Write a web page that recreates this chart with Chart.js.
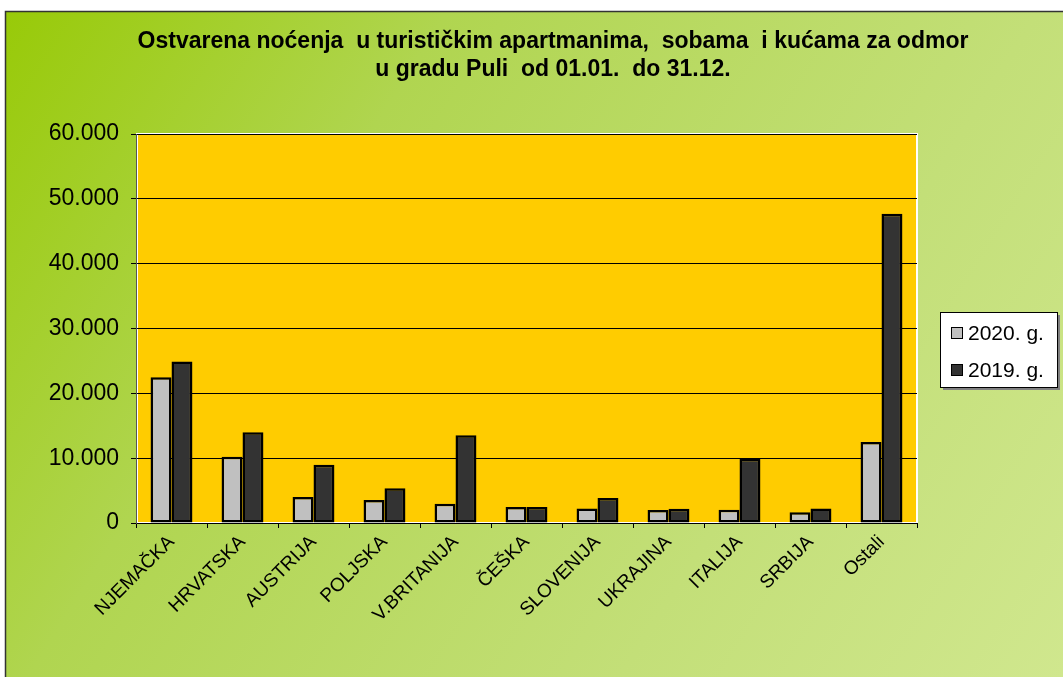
<!DOCTYPE html>
<html>
<head>
<meta charset="utf-8">
<script src="https://cdn.jsdelivr.net/npm/chart.js@4"></script>
<style>
  body { margin: 0; background: #fff; }
  canvas { display: block; }
</style>
</head>
<body>
<canvas id="chart" width="1063" height="677"></canvas>
<script>
const categories = ['NJEMAČKA', 'HRVATSKA', 'AUSTRIJA', 'POLJSKA', 'V.BRITANIJA', 'ČEŠKA', 'SLOVENIJA', 'UKRAJINA', 'ITALIJA', 'SRBIJA', 'Ostali'];
const values2020 = [22500, 10200, 4000, 3550, 2950, 2450, 2250, 2000, 2050, 1650, 12500];
const values2019 = [24900, 14000, 9000, 5350, 13550, 2450, 3850, 2200, 9900, 2250, 47700];
const seriesLabels = ['2020. g.', '2019. g.'];
const titleLines = ['Ostvarena noćenja  u turističkim apartmanima,  sobama  i kućama za odmor', 'u gradu Puli  od 01.01.  do 31.12.'];
const yMax = 60000;
const yStep = 10000;

const FONT = "'Liberation Sans', Arial, sans-serif";

function formatThousands(v) {
    return String(v).replace(/\B(?=(\d{3})+(?!\d))/g, '.');
}

// background frame, gradient and plot area fill
const backgroundPlugin = {
    id: 'background',
    beforeDraw(chart) {
        const ctx = chart.ctx;
        const w = chart.width, h = chart.height;
        ctx.save();
        ctx.fillStyle = '#ffffff';
        ctx.fillRect(0, 0, w, h);
        const grad = ctx.createLinearGradient(5, 11, w, h);
        grad.addColorStop(0, '#98ca08');
        grad.addColorStop(0.3, '#b0d550');
        grad.addColorStop(0.7, '#c3df78');
        grad.addColorStop(1, '#d0e78e');
        ctx.fillStyle = grad;
        ctx.fillRect(5, 11, w - 5, h - 11);
        ctx.strokeStyle = '#333333';
        ctx.lineWidth = 1.5;
        ctx.beginPath();
        ctx.moveTo(5.5, h);
        ctx.lineTo(5.5, 11.5);
        ctx.lineTo(w, 11.5);
        ctx.stroke();

        const a = chart.chartArea;
        ctx.fillStyle = '#FFCC00';
        ctx.fillRect(a.left, a.top, a.right - a.left, a.bottom - a.top);
        ctx.strokeStyle = '#ffffff';
        ctx.lineWidth = 2;
        ctx.strokeRect(a.left + 1, a.top, a.right - a.left - 1, a.bottom - a.top);
        ctx.restore();
    }
};

// two-line title and the legend box on the right
const labelsPlugin = {
    id: 'labels',
    afterDraw(chart) {
        const ctx = chart.ctx;
        ctx.save();
        ctx.fillStyle = '#000000';
        ctx.font = 'bold 23px ' + FONT;
        ctx.textAlign = 'center';
        ctx.textBaseline = 'alphabetic';
        titleLines.forEach((line, i) => {
            ctx.fillText(line, 553, 47.5 + i * 28.5);
        });

        const bx = 940, by = 312, bw = 117, bh = 75;
        ctx.fillStyle = '#808080';
        ctx.fillRect(bx + 3, by + 3, bw, bh);
        ctx.fillStyle = '#ffffff';
        ctx.fillRect(bx, by, bw, bh);
        ctx.strokeStyle = '#000000';
        ctx.lineWidth = 1;
        ctx.strokeRect(bx + 0.5, by + 0.5, bw, bh);

        ctx.font = '21px ' + FONT;
        ctx.textAlign = 'left';
        ctx.textBaseline = 'middle';
        chart.data.datasets.forEach((ds, i) => {
            const cy = by + 21 + i * 37;
            ctx.fillStyle = ds.backgroundColor;
            ctx.fillRect(bx + 11, cy - 6, 12, 12);
            ctx.strokeStyle = '#000000';
            ctx.strokeRect(bx + 11.5, cy - 5.5, 11, 11);
            ctx.fillStyle = '#000000';
            ctx.fillText(ds.label, bx + 28, cy + 1);
        });
        ctx.restore();
    }
};

const chart = new Chart(document.getElementById('chart'), {
    type: 'bar',
    data: {
        labels: categories,
        datasets: [
            {
                label: seriesLabels[0],
                data: values2020,
                backgroundColor: '#C0C0C0',
                borderColor: '#000000',
                borderWidth: 2.5,
                borderSkipped: false
            },
            {
                label: seriesLabels[1],
                data: values2019,
                backgroundColor: '#333333',
                borderColor: '#000000',
                borderWidth: 2.5,
                borderSkipped: false
            }
        ]
    },
    options: {
        responsive: false,
        animation: false,
        datasets: {
            bar: {
                categoryPercentage: 0.59,
                barPercentage: 1.0
            }
        },
        layout: {
            padding: { top: 134, right: 146, left: 0, bottom: 0 }
        },
        plugins: {
            legend: { display: false },
            title: { display: false },
            tooltip: { enabled: false }
        },
        scales: {
            x: {
                grid: {
                    offset: true,
                    drawOnChartArea: false,
                    drawTicks: true,
                    tickLength: 5,
                    color: '#000000'
                },
                border: { color: '#000000', width: 1 },
                ticks: {
                    color: '#000000',
                    font: { family: FONT, size: 19 },
                    minRotation: 45,
                    maxRotation: 45,
                    autoSkip: false,
                    padding: 3
                },
                afterFit(scale) {
                    scale.height = 154;
                }
            },
            y: {
                min: 0,
                max: yMax,
                grid: {
                    color: '#000000',
                    lineWidth: 1,
                    tickLength: 5
                },
                border: { color: '#555555', width: 1 },
                ticks: {
                    stepSize: yStep,
                    color: '#000000',
                    font: { family: FONT, size: 23 },
                    padding: 12,
                    callback: v => formatThousands(v)
                },
                afterFit(scale) {
                    scale.width = 136;
                }
            }
        }
    },
    plugins: [backgroundPlugin, labelsPlugin]
});
</script>
</body>
</html>
